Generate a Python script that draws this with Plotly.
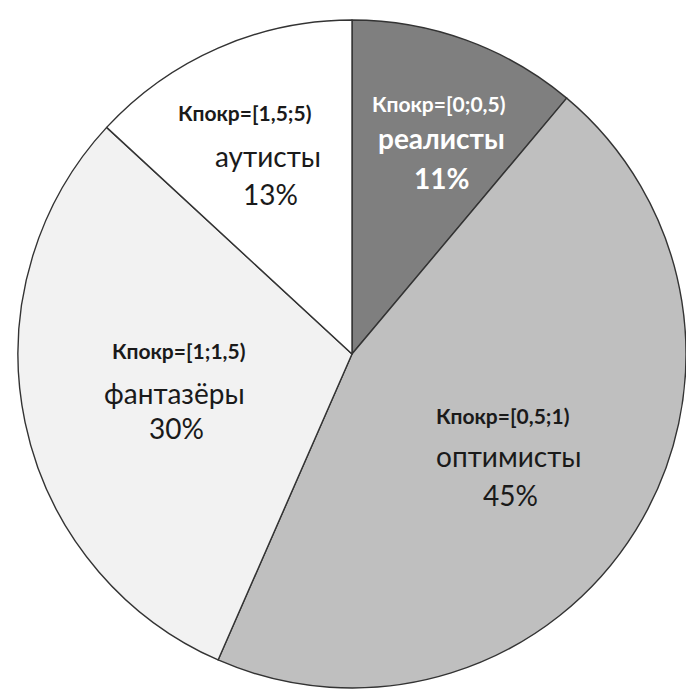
import plotly.graph_objects as go

# Groups by purchase coefficient (Кпокр) and their shares, %
groups = ["реалисты", "оптимисты", "фантазёры", "аутисты"]
shares = [11, 45, 30, 13]
k_ranges = ["[0;0,5)", "[0,5;1)", "[1;1,5)", "[1,5;5)"]
slice_colors = ["#7f7f7f", "#bfbfbf", "#f2f2f2", "#ffffff"]

W, H = 686, 693
FONT = "Lato"

fig = go.Figure(
    go.Pie(
        labels=groups,
        values=shares,
        sort=False,
        direction="clockwise",
        rotation=0,
        textinfo="none",
        hoverinfo="label+percent",
        marker=dict(colors=slice_colors, line=dict(color="#333333", width=1.4)),
        domain=dict(x=[18 / W, 1.0], y=[1 - 688 / H, 1 - 20 / H]),
        showlegend=False,
    )
)

# label block centres (px) for each slice: coefficient line, name line, percent line
label_pos = [
    [(438, 103), (441, 138), (441, 178)],
    [(502, 415), (509, 456), (510, 495)],
    [(178, 351), (174, 393), (176, 428)],
    [(244, 112), (268, 156), (270, 194)],
]

for i, g in enumerate(groups):
    light = i == 0
    col = "#ffffff" if light else "#1a1a1a"
    lines = [
        (f"<b>Кпокр={k_ranges[i]}</b>", 21),
        (f"<b>{g}</b>" if light else g, 28),
        (f"<b>{shares[i]}%</b>" if light else f"{shares[i]}%", 28),
    ]
    for (txt, size), (px, py) in zip(lines, label_pos[i]):
        fig.add_annotation(
            x=px / W, y=1 - py / H, xref="paper", yref="paper",
            text=txt, showarrow=False, xanchor="center", yanchor="middle",
            borderpad=0,
            font=dict(family=FONT, size=size, color=col),
        )

fig.update_layout(
    width=W, height=H,
    margin=dict(l=0, r=0, t=0, b=0),
    paper_bgcolor="white", plot_bgcolor="white",
)

fig.write_html("out.html")
